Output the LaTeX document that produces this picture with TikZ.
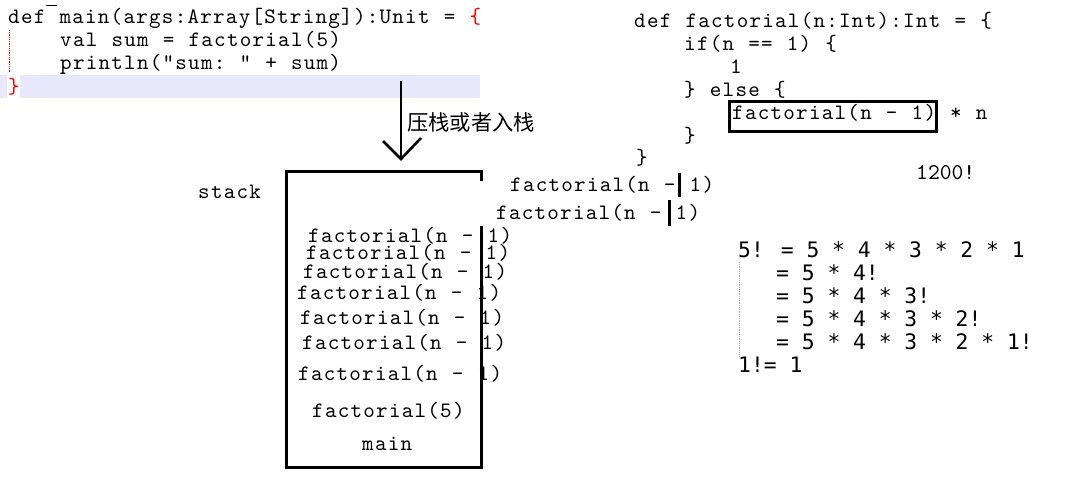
\documentclass[tikz,border=0pt]{standalone}
\usepackage{fontspec}
\setmonofont[LetterSpace=5.7, WordSpace=1.108]{lmmono10-regular.otf}
\newfontfamily\plaintt{lmmono10-regular.otf}
\newfontfamily\dvm{DejaVu Sans Mono}
\newfontfamily\cjk{Noto Sans CJK SC}
\definecolor{bandcol}{HTML}{E8E8FA}
\definecolor{codered}{HTML}{FF0000}
\definecolor{guidegrey}{HTML}{B0B0B0}
\begin{document}
\begin{tikzpicture}[x=1pt,y=-1pt,
  code/.style={anchor=base west, inner sep=0pt, font=\ttfamily\fontsize{22}{24}\selectfont},
  mathline/.style={anchor=base west, inner sep=0pt, font=\dvm\fontsize{21.3}{24}\selectfont},
  bigrule/.style={line width=3pt, line cap=rect},
  arrowline/.style={line width=2.6pt}]
\useasboundingbox (0,0) rectangle (1073,482);

% highlighted current line
\fill[bandcol] (0,75) rectangle (480,98);
\fill[white] (7,75) rectangle (20,98);
\draw[codered, densely dotted, line width=0.8pt] (9,30) -- (9,73);
\draw[line width=0.8pt] (46,5) -- (57,5);

% main code
\node[code] (m1) at (8,23) {def main(args:Array[String]):Unit = \textcolor{codered}{\{}};
\node[code] (m2) at (60,46) {val sum = factorial(5)};
\node[code] (m3) at (60,69) {println("sum: " + sum)};
\node[code, text=codered] (m4) at (8,93) {\}};

% factorial code
\node[code] (f1) at (634,27) {def factorial(n:Int):Int = \{};
\node[code] (f2) at (684,50) {if(n == 1) \{};
\node[code] (f3) at (730,73) {1};
\node[code] (f4) at (684,96) {\} else \{};
\node[code] (f5) at (732,119) {factorial(n - 1)};
\node[code] (f5b) at (950,119) {* n};
\node[code] (f6) at (684,142) {\}};
\node[code] (f7) at (636,164) {\}};
\draw[bigrule] (729,101) rectangle (936,131);

\node[code, font=\plaintt\fontsize{22.5}{24}\selectfont] (note) at (916,179) {1200!};

% floating calls
\node[code] (c1) at (510,191) {factorial(n - 1)};
\node[code] (c2) at (496,219) {factorial(n - 1)};
\draw[line width=3pt] (679,173) -- (679,197);
\draw[line width=3pt] (669,200) -- (669,226);

% stack label
\node[code] (stacklabel) at (198,198) {stack};

% stack items
\node[code] (s1) at (308,242) {factorial(n - 1)};
\node[code] (s2) at (306,259) {factorial(n - 1)};
\node[code] (s3) at (303,278) {factorial(n - 1)};
\node[code] (s4) at (297,299) {factorial(n - 1)};
\node[code] (s5) at (300,324) {factorial(n - 1)};
\node[code] (s6) at (302,349) {factorial(n - 1)};
\node[code] (s7) at (298,380) {factorial(n - 1)};
\node[code] (s8) at (312,417) {factorial(5)};
\node[code] (s9) at (362,450) {main};

% stack frame
\coordinate (tl) at (286,171);
\coordinate (tr) at (481,171);
\coordinate (trs) at (481,179);
\coordinate (rs) at (481,227);
\coordinate (br) at (481,467);
\coordinate (bl) at (286,467);
\draw[bigrule] (trs) -- (tr) -- (tl) -- (bl) -- (br) -- (rs);

% push arrow
\coordinate (atop) at (401,81);
\coordinate (atip) at (401,159);
\coordinate (aleft) at (383,141);
\coordinate (aright) at (421,138);
\draw[arrowline] (atop) -- (atip);
\draw[arrowline] (aleft) -- (atip) -- (aright);
\node[anchor=west, inner sep=0pt, font=\cjk\fontsize{21.3}{23}\selectfont] (push) at (407,122) {压栈或者入栈};

% factorial expansion
\draw[guidegrey, densely dotted, line width=0.8pt] (739,262) -- (739,356);
\node[mathline] (e1) at (738,257) {5! = 5 * 4 * 3 * 2 * 1};
\node[mathline] (e2) at (776,280) {= 5 * 4!};
\node[mathline] (e3) at (776,303) {= 5 * 4 * 3!};
\node[mathline] (e4) at (776,326) {= 5 * 4 * 3 * 2!};
\node[mathline] (e5) at (776,349) {= 5 * 4 * 3 * 2 * 1!};
\node[mathline] (e6) at (738,372) {1!= 1};
\end{tikzpicture}
\end{document}
